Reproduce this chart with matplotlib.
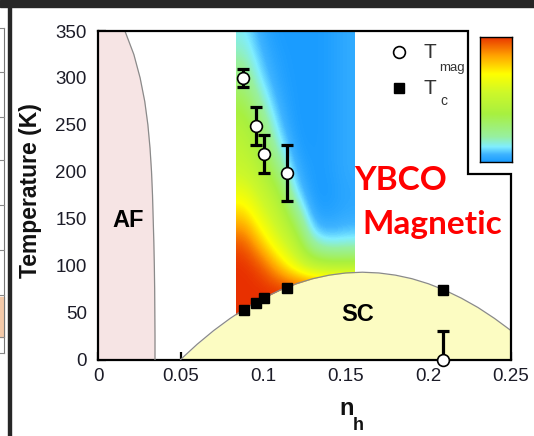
import numpy as np
import matplotlib
matplotlib.use("Agg")
import matplotlib.pyplot as plt
from matplotlib.colors import LinearSegmentedColormap
from matplotlib.patches import Rectangle

plt.rcParams['font.family'] = ['Liberation Sans', 'DejaVu Sans']

# ---- data -------------------------------------------------------------
# magnetic ordering temperature with error bars
nh_mag = [0.088, 0.0955, 0.1003, 0.1142, 0.2086]
T_mag = [300, 249, 219, 199, 0]
T_mag_err_lo = [10, 20, 20, 30, 0]
T_mag_err_hi = [10, 20, 20, 30, 30]

# superconducting Tc
nh_tc = [0.0884, 0.0955, 0.1003, 0.1142, 0.2086]
T_c = [53, 60, 66, 76, 74]

# superconducting dome boundary
dome_nh = [0.05, 0.06, 0.07, 0.08, 0.09, 0.10, 0.11, 0.12, 0.13, 0.14,
           0.15, 0.16, 0.17, 0.18, 0.19, 0.20, 0.21, 0.22, 0.23, 0.24, 0.25]
dome_T = [0, 16.2, 30.8, 43.8, 55.4, 65.3, 73.8, 80.7, 86.1, 89.9,
          92.2, 93.0, 92.2, 89.9, 86.1, 80.7, 73.8, 65.3, 55.4, 43.8, 30.8]

# antiferromagnetic boundary
af_T = [0, 25, 50, 75, 100, 125, 150, 175, 200, 225, 250, 275, 300, 325, 350]
af_nh = [0.0345, 0.0345, 0.0344, 0.0343, 0.0341, 0.0338, 0.0334, 0.0330,
         0.0324, 0.0315, 0.0302, 0.0283, 0.0255, 0.0217, 0.0163]

# magnetic intensity map: cell rows are temperatures 50..350 K (step 25),
# columns span hole doping 0.0835..0.155
map_nh_range = (0.0835, 0.155)
map_T_range = (37.5, 362.5)
map_val = [
    # 0.089 0.099 0.109 0.119 0.129 0.140 0.150
    [1.00, 1.00, 1.00, 1.00, 1.00, 1.00, 1.00],   # 50
    [1.00, 1.00, 1.00, 1.00, 1.00, 1.00, 1.00],   # 75
    [1.00, 0.96, 0.80, 0.62, 0.46, 0.40, 0.40],   # 100
    [0.95, 0.78, 0.60, 0.47, 0.15, 0.10, 0.12],   # 125
    [0.80, 0.63, 0.50, 0.31, 0.03, 0.02, 0.04],   # 150
    [0.66, 0.53, 0.42, 0.12, 0.00, 0.00, 0.03],   # 175
    [0.54, 0.44, 0.28, 0.05, 0.00, 0.01, 0.04],   # 200
    [0.48, 0.36, 0.16, 0.01, 0.00, 0.01, 0.04],   # 225
    [0.43, 0.28, 0.08, 0.00, 0.00, 0.01, 0.04],   # 250
    [0.35, 0.18, 0.04, 0.00, 0.00, 0.01, 0.04],   # 275
    [0.26, 0.10, 0.02, 0.00, 0.00, 0.01, 0.04],   # 300
    [0.18, 0.06, 0.01, 0.00, 0.00, 0.01, 0.04],   # 325
    [0.13, 0.03, 0.00, 0.00, 0.00, 0.01, 0.04],   # 350
]

x_ticks = [0, 0.05, 0.1, 0.15, 0.2, 0.25]
x_ticklabels = ['0', '0.05', '0.1', '0.15', '0.2', '0.25']
y_ticks = [0, 50, 100, 150, 200, 250, 300, 350]

# ---- figure -----------------------------------------------------------
W, H = 534, 436
fig = plt.figure(figsize=(W / 100, H / 100), dpi=100)
fig.patch.set_facecolor('white')


def fx(px):
    return px / W


def fy(py):
    return 1 - py / H


# surrounding slide elements
fig.patches.append(Rectangle((0, fy(7)), 1, 7 / H, transform=fig.transFigure,
                             color='#262626', zorder=0))
fig.patches.append(Rectangle((fx(8), 0), 3 / W, fy(7), transform=fig.transFigure,
                             color='#262626', zorder=0))
fig.lines.append(plt.Line2D([fx(3.5), fx(3.5)], [fy(28), fy(353)],
                            transform=fig.transFigure, color='#777777', lw=0.8))
fig.patches.append(Rectangle((0, fy(337)), fx(3.5), (337 - 297) / H,
                             transform=fig.transFigure, color='#f3c9a8', zorder=0))
for py in [28, 72, 117, 160, 205, 250, 295, 337, 353]:
    fig.lines.append(plt.Line2D([0, fx(3.5)], [fy(py), fy(py)],
                                transform=fig.transFigure, color='#888888', lw=0.8))

cmap = LinearSegmentedColormap.from_list('mag', [
    (0.00, '#1a9cff'), (0.06, '#3fb4ff'), (0.12, '#80eeff'), (0.20, '#98f0a0'),
    (0.38, '#a8f040'), (0.55, '#cdf82a'), (0.70, '#ffff00'), (0.85, '#ffa000'),
    (1.00, '#e83000')])

ax = fig.add_axes([fx(98), fy(359.5), (511 - 98) / W, (359.5 - 31) / H])
ax.set_xlim(0, 0.25)
ax.set_ylim(0, 350)

ax.imshow(np.array(map_val), cmap=cmap, vmin=0, vmax=1, origin='lower',
          extent=[map_nh_range[0], map_nh_range[1], map_T_range[0], map_T_range[1]],
          aspect='auto', interpolation='bicubic', interpolation_stage='data',
          zorder=1)

ax.fill_betweenx(af_T, 0, af_nh, color='#f6e4e4', zorder=2, lw=0)
ax.plot(af_nh, af_T, color='#8a8a8a', lw=0.9, zorder=3)

ax.fill_between(dome_nh, 0, dome_T, color='#fcfcc2', zorder=2, lw=0)
ax.plot(dome_nh, dome_T, color='#8a8a8a', lw=0.9, zorder=3)

ax.errorbar(nh_mag, T_mag, yerr=[T_mag_err_lo, T_mag_err_hi], fmt='none',
            ecolor='black', elinewidth=2.3, capsize=4.5, capthick=2.3, zorder=4)
ax.plot(nh_mag, T_mag, 'o', ms=8.5, mfc='white', mec='black', mew=1.2,
        zorder=5, clip_on=False)
ax.plot(nh_tc, T_c, 's', ms=7.5, color='black', zorder=5, clip_on=False)

# stepped frame
for s in ['top', 'right']:
    ax.spines[s].set_visible(False)
for s in ['left', 'bottom']:
    ax.spines[s].set_linewidth(1.6)
ax.plot([0, 0.224, 0.224, 0.25, 0.25], [350, 350, 198, 198, 0], color='black',
        lw=1.6, clip_on=False, zorder=6, solid_joinstyle='miter')

ax.set_xticks(x_ticks)
ax.set_xticklabels(x_ticklabels)
ax.set_yticks(y_ticks)
ax.tick_params(direction='in', length=6, width=1.6, labelsize=13.5,
               labelcolor='#1c1c28', color='black')
ax.tick_params(axis='x', pad=6)
ax.tick_params(axis='y', pad=8)

ax.text(0.018, 148, 'AF', fontsize=17, fontweight='bold',
        ha='center', va='center', zorder=6)
ax.text(0.157, 48, 'SC', fontsize=17, fontweight='bold', ha='center',
        va='center', zorder=6)

fig.text(fx(401), fy(180), 'YBCO', color='#ff0000', fontsize=24,
         fontweight='bold', family=['Lato', 'DejaVu Sans'], ha='center', va='center')
fig.text(fx(432), fy(224), 'Magnetic', color='#ff0000', fontsize=24,
         fontweight='bold', family=['Lato', 'DejaVu Sans'], ha='center', va='center')

# legend
ax.plot([0.729], [0.936], 'o', ms=8.5, mfc='white', mec='black', mew=1.2,
        transform=ax.transAxes, clip_on=False, zorder=7)
ax.plot([0.729], [0.826], 's', ms=7.5, color='black',
        transform=ax.transAxes, clip_on=False, zorder=7)
fig.text(fx(423), fy(52), 'T', fontsize=15, color='#333333', ha='left', va='center')
fig.text(fx(439), fy(68), 'mag', fontsize=9.5, color='#333333', ha='left', va='center')
fig.text(fx(423), fy(88), 'T', fontsize=15, color='#333333', ha='left', va='center')
fig.text(fx(440), fy(101), 'c', fontsize=10, color='#333333', ha='left', va='center')

# axis labels
fig.text(fx(31), fy(191), 'Temperature (K)', rotation=90, fontsize=16.5,
         fontweight='bold', color='#111111', ha='center', va='center')
fig.text(fx(347), fy(408), 'n', fontsize=17, fontweight='bold', color='#111111',
         ha='center', va='center')
fig.text(fx(358), fy(425), 'h', fontsize=13, fontweight='bold', color='#111111',
         ha='center', va='center')

# colour scale bar
cax = fig.add_axes([fx(480), fy(162.3), 31.7 / W, 125.3 / H])
cax.imshow(np.linspace(0, 1, 256).reshape(-1, 1), cmap=cmap, aspect='auto',
           origin='lower', extent=[0, 1, 0, 1])
cax.set_xticks([])
cax.set_yticks([])
for s in cax.spines.values():
    s.set_linewidth(1.0)

fig.savefig('out.png', dpi=100)
